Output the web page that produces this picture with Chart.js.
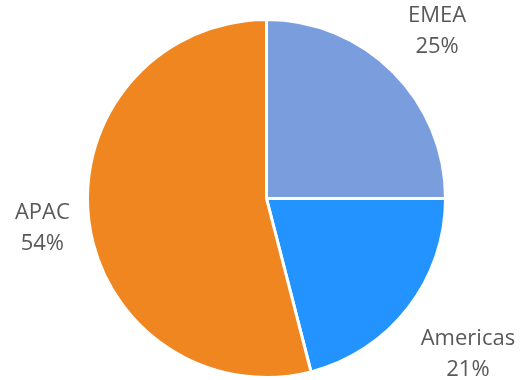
<!DOCTYPE html>
<html>
<head>
<meta charset="utf-8">
<script src="https://cdn.jsdelivr.net/npm/chart.js@4/dist/chart.umd.min.js"></script>
<style>
  html, body { margin: 0; padding: 0; background: #fff; }
  #wrap { width: 522px; height: 380px; }
</style>
</head>
<body>
<div id="wrap"><canvas id="regionChart"></canvas></div>
<script>
'use strict';

// share of revenue by region
const regions = ['EMEA', 'Americas', 'APAC'];
const shares = [25, 21, 54];
const sliceColors = ['#7A9EDD', '#2293FF', '#F08620'];

/**
 * outside labels: name + percent, placed on each slice's mid angle
 */
const outsideLabels = {
  id: 'outsideLabels',
  afterDatasetsDraw(chart) {
    const ctx = chart.ctx;
    const meta = chart.getDatasetMeta(0);
    const total = shares.reduce((a, b) => a + b, 0);
    const lineH = 31;
    const gap = 18;

    ctx.save();
    ctx.font = '22px "Open Sans"';
    ctx.fillStyle = '#595959';
    ctx.textAlign = 'center';
    ctx.textBaseline = 'middle';

    meta.data.forEach(function (arc, i) {
      const p = arc.getProps(['x', 'y', 'startAngle', 'endAngle', 'outerRadius'], true);
      const mid = (p.startAngle + p.endAngle) / 2;
      const pct = Math.round(shares[i] / total * 100) + '%';
      const hw = Math.max(ctx.measureText(regions[i]).width, ctx.measureText(pct).width) / 2;
      const hh = lineH / 2 + 14;
      const cos = Math.cos(mid), sin = Math.sin(mid);
      const dist = p.outerRadius + gap + Math.abs(cos) * hw + Math.abs(sin) * hh;
      const cx = p.x + cos * dist + 2;
      const cy = p.y + sin * dist + 1;
      ctx.fillText(regions[i], cx, cy - lineH / 2);
      ctx.fillText(pct, cx, cy + lineH / 2);
    });
    ctx.restore();
  }
};

const ctx = document.getElementById('regionChart').getContext('2d');
const regionChart = new Chart(ctx, {
  type: 'pie',
  data: {
    labels: regions,
    datasets: [{
      data: shares,
      backgroundColor: sliceColors,
      borderColor: '#ffffff',
      borderWidth: 3
    }]
  },
  options: {
    responsive: true,
    maintainAspectRatio: false,
    animation: false,
    layout: {
      padding: { top: 18, bottom: 1, left: 86, right: 75 }
    },
    plugins: {
      legend: { display: false },
      tooltip: { enabled: false }
    }
  },
  plugins: [outsideLabels]
});
</script>
</body>
</html>
